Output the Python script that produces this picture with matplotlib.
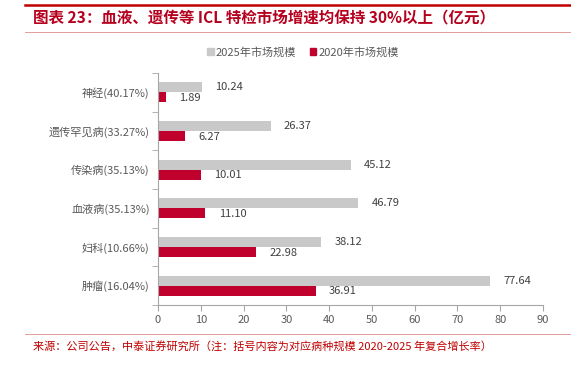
import matplotlib
matplotlib.use("Agg")
import matplotlib.pyplot as plt
from matplotlib.lines import Line2D
from matplotlib.patches import Patch

plt.rcParams['font.family'] = ['Noto Sans CJK SC', 'DejaVu Sans']

categories = ['肿瘤(16.04%)', '妇科(10.66%)', '血液病(35.13%)', '传染病(35.13%)',
              '遗传罕见病(33.27%)', '神经(40.17%)']
values_2025 = [77.64, 38.12, 46.79, 45.12, 26.37, 10.24]
values_2020 = [36.91, 22.98, 11.10, 10.01, 6.27, 1.89]
series_names = ['2025年市场规模', '2020年市场规模']
x_ticks = [0, 10, 20, 30, 40, 50, 60, 70, 80, 90]

title = '图表 23：血液、遗传等 ICL 特检市场增速均保持 30%以上（亿元）'
source = '来源：公司公告，中泰证券研究所（注：括号内容为对应病种规模 2020-2025 年复合增长率）'

gray = '#C9C9C9'
red = '#C0002D'
txt_gray = '#595959'
spine_gray = '#A6A6A6'

W, H = 571, 369
fig = plt.figure(figsize=(W / 100, H / 100), dpi=100)
ax = fig.add_axes([158 / W, 1 - 305 / H, (543 - 158) / W, (305 - 73) / H])

y = list(range(len(categories)))
bh = 0.26
ax.barh([v + bh / 2 for v in y], values_2025, height=bh, color=gray, label=series_names[0])
ax.barh([v - bh / 2 for v in y], values_2020, height=bh, color=red, label=series_names[1])

for yi, v in zip(y, values_2025):
    ax.annotate(f'{v:.2f}', (v, yi + bh / 2), xytext=(9.5, 0), textcoords='offset points',
                va='center', ha='left', fontsize=8, color='#404040')
for yi, v in zip(y, values_2020):
    ax.annotate(f'{v:.2f}', (v, yi - bh / 2), xytext=(9.5, -0.5), textcoords='offset points',
                va='center', ha='left', fontsize=8, color='#404040')

ax.set_xlim(0, 90)
ax.set_ylim(-0.5, len(categories) - 0.5)
ax.set_xticks(x_ticks)
ax.set_yticks(y)
ax.set_yticklabels(categories)
ax.set_yticks([i - 0.5 for i in range(len(categories) + 1)], minor=True)
ax.tick_params(axis='y', which='major', length=0, pad=6, labelsize=8, labelcolor=txt_gray)
ax.tick_params(axis='y', which='minor', length=4, color=spine_gray, direction='out')
ax.tick_params(axis='x', which='major', length=4, color=spine_gray, labelsize=8,
               labelcolor=txt_gray, pad=3)
for s in ['top', 'right']:
    ax.spines[s].set_visible(False)
for s in ['left', 'bottom']:
    ax.spines[s].set_color(spine_gray)
    ax.spines[s].set_linewidth(0.8)

handles = [Patch(color=gray), Patch(color=red)]
fig.legend(handles, series_names, loc='center', bbox_to_anchor=(303 / W, 1 - 52 / H), ncol=2,
           frameon=False, fontsize=8, labelcolor=txt_gray, handlelength=0.6, handleheight=0.6,
           handletextpad=0.2, columnspacing=1.2)

fig.add_artist(Line2D([25 / W, 1], [1 - 5 / H] * 2, color='#C00000', linewidth=1.8))
fig.add_artist(Line2D([25 / W, 1], [1 - 32 / H] * 2, color='#E39B9B', linewidth=0.7))
fig.add_artist(Line2D([25 / W, 1], [1 - 334 / H] * 2, color='#E39B9B', linewidth=0.7))

fig.text(33 / W, 1 - 18 / H, title, fontsize=11.2, fontweight='bold', color='#B5001E',
         va='center', ha='left')
fig.text(33 / W, 1 - 347 / H, source, fontsize=8, color='#C00000', va='center', ha='left')

fig.savefig('out.png', dpi=100)
